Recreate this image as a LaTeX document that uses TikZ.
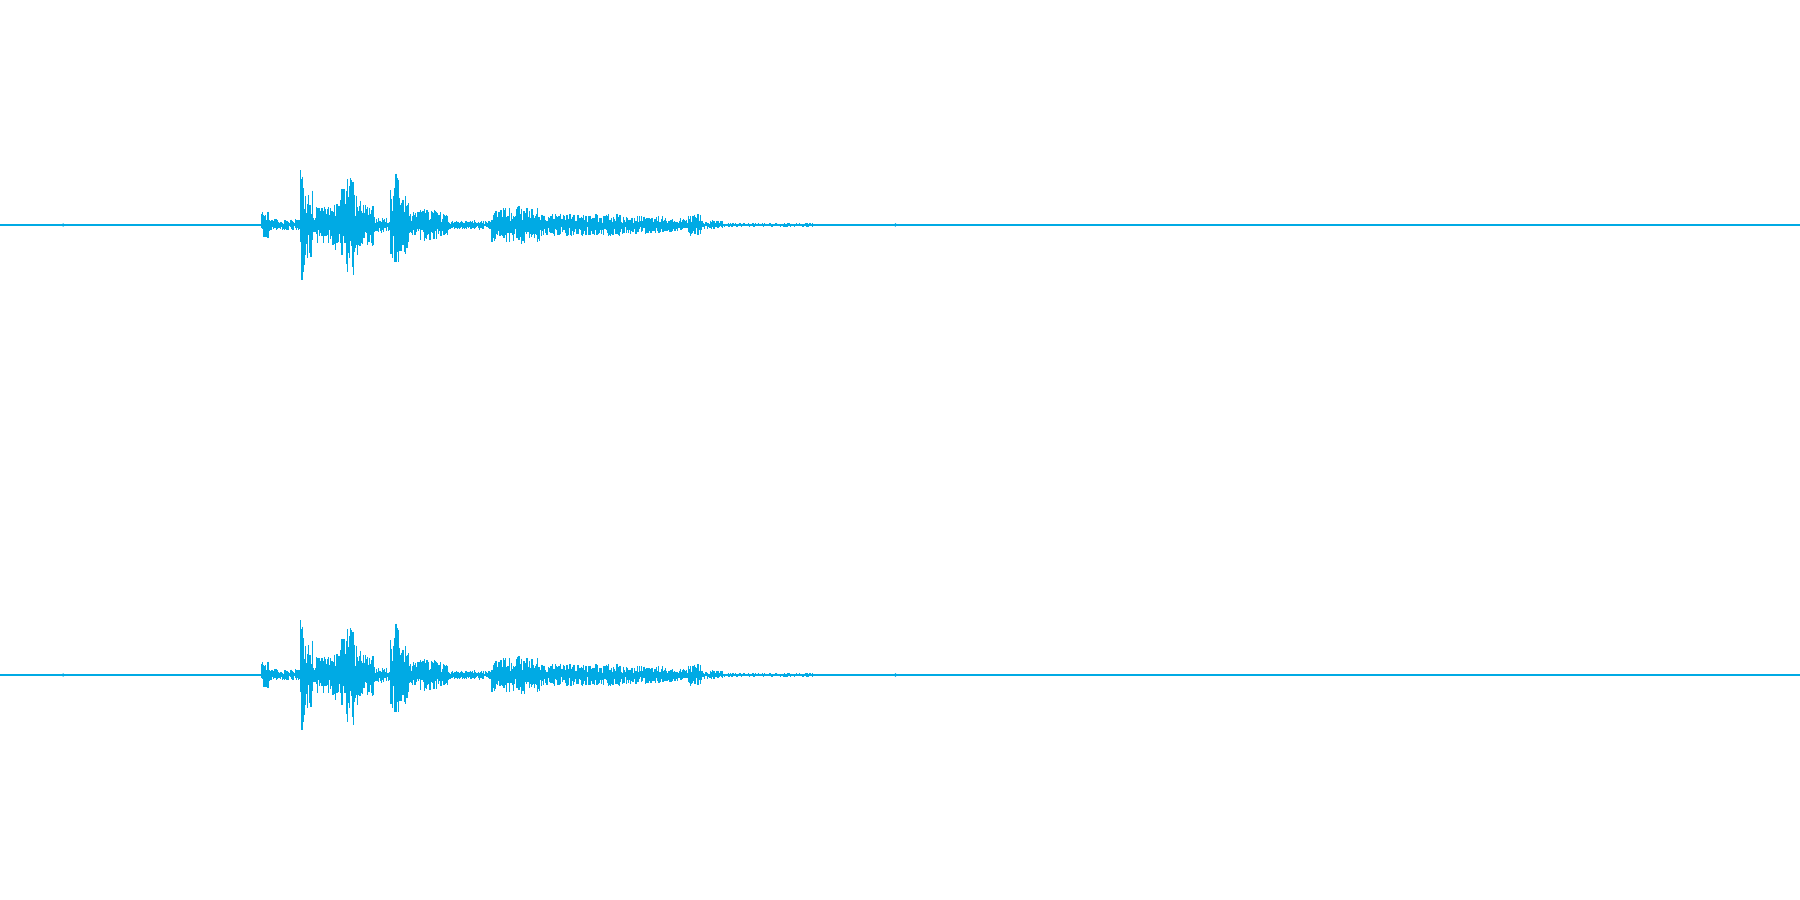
\documentclass[tikz,border=0pt]{standalone}
\usepackage{tikz}
\definecolor{wavecol}{RGB}{0,170,228}
\tikzset{wave/.style={draw=wavecol, line width=0.35pt},
  axisline/.style={draw=wavecol, line width=0.3pt}}
% one channel of the waveform, baseline at y=#1
\newcommand{\channel}[1]{%
  \pgfmathsetseed{4711}
  \draw[axisline] (0,#1) -- (1568,#1);
  \fill[wavecol] (55,#1) circle (1.6);
  \fill[wavecol] (780,#1) circle (1.6);
  \foreach \a/\b/\h in {228/235/12, 235/262/5, 262/266/50, 266/272/30,
      272/290/16, 290/298/24, 298/302/34, 302/308/46, 308/314/30,
      314/325/18, 325/340/7, 340/344/34, 344/348/50, 348/356/26,
      356/366/12, 366/380/14, 380/390/11, 390/428/4, 428/450/15,
      450/470/17, 470/480/10, 480/540/10, 540/580/8, 580/600/6,
      600/610/10, 610/630/4, 630/708/1.6}{
    \foreach \x in {\a,\a.5,...,\b}{
      \pgfmathsetmacro\up{\h*(0.2+0.8*rnd^1.5)}
      \pgfmathsetmacro\dn{\h*(0.2+0.8*rnd^1.5)}
      \draw[wave] (\x,#1+\up) -- (\x,#1-\dn);
    }
  }
}
\begin{document}
\begin{tikzpicture}[x=0.01148cm, y=0.01148cm]
  \useasboundingbox (0,0) rectangle (1568,784);
  \channel{588}
  \channel{196}
\end{tikzpicture}
\end{document}
